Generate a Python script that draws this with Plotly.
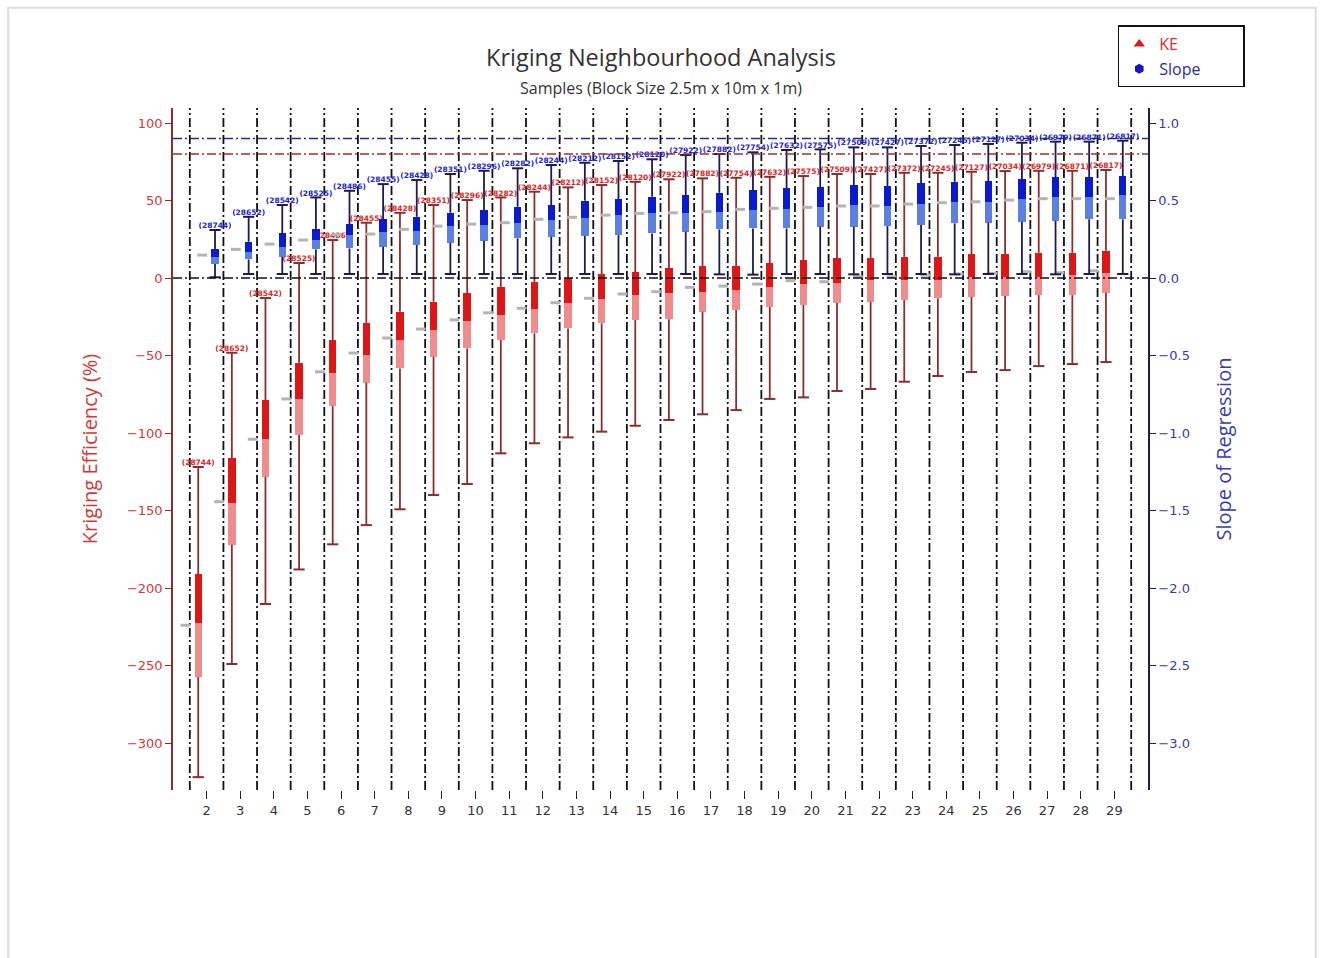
import plotly.graph_objects as go

# Number of samples in the search neighbourhood
samples = list(range(2, 30))

# Number of blocks estimated for each neighbourhood size
block_counts = [28744, 28652, 28542, 28525, 28486, 28455, 28428, 28351, 28296, 28282,
                28244, 28212, 28152, 28120, 27922, 27882, 27754, 27632, 27575, 27509,
                27427, 27372, 27245, 27127, 27034, 26979, 26871, 26817]

# Kriging efficiency (%) statistics
ke_max = [-121.9, -48.2, -12.9, 9.7, 24.5, 35.7, 42.1, 47.1, 50.3, 52.0, 55.7, 58.5, 60.0, 62.1,
          63.7, 64.3, 64.7, 65.3, 65.8, 67.1, 67.1, 67.9, 67.9, 68.6, 69.0, 69.2, 69.2, 69.7]
ke_q3 = [-191.0, -116.1, -78.7, -54.6, -40.0, -29.0, -21.7, -15.3, -9.7, -6.0, -2.5, -0.2, 2.6, 3.7,
         6.3, 7.7, 7.7, 9.5, 11.6, 12.7, 12.7, 13.7, 13.7, 15.5, 15.5, 16.3, 16.3, 17.6]
ke_median = [-222.6, -145.0, -103.9, -78.0, -61.1, -49.7, -40.0, -33.5, -27.5, -23.9, -20.2, -16.3,
             -13.5, -11.0, -9.5, -8.8, -7.7, -5.6, -3.8, -3.4, -1.3, -1.3, -1.3, 0.8, 0.8, 0.8, 1.9, 3.0]
ke_q1 = [-257.4, -172.0, -128.2, -101.3, -82.6, -67.5, -58.3, -50.8, -45.4, -40.0, -35.7, -32.5,
         -29.2, -27.1, -26.6, -21.7, -20.6, -18.7, -17.4, -16.1, -15.3, -14.2, -13.1, -12.1, -11.6,
         -11.0, -11.0, -9.5]
ke_min = [-322.0, -249.0, -210.3, -188.0, -171.8, -159.4, -149.2, -140.0, -132.9, -113.1, -106.6,
          -102.8, -99.1, -95.3, -91.6, -87.9, -85.2, -78.0, -77.0, -72.9, -71.6, -66.9, -63.2, -60.6,
          -59.4, -56.8, -55.5, -54.2]
ke_mean = [-224.0, -144.3, -104.0, -78.0, -60.5, -48.4, -38.7, -32.9, -27.0, -22.4, -19.5, -15.9,
           -13.1, -10.3, -8.8, -6.0, -5.2, -3.9, -1.7, -2.4, 0.8, 0.8, 1.9, 2.6, 3.0, 4.1, 3.4, 4.7]

# Slope of regression statistics
sl_max = [0.310, 0.395, 0.471, 0.520, 0.563, 0.606, 0.632, 0.671, 0.692, 0.708, 0.729, 0.744,
          0.755, 0.766, 0.794, 0.800, 0.811, 0.826, 0.830, 0.843, 0.843, 0.852, 0.858, 0.865,
          0.873, 0.880, 0.880, 0.886]
sl_q3 = [0.187, 0.234, 0.288, 0.314, 0.348, 0.379, 0.395, 0.421, 0.439, 0.460, 0.471, 0.499,
         0.510, 0.525, 0.535, 0.550, 0.568, 0.579, 0.585, 0.600, 0.594, 0.611, 0.621, 0.626,
         0.637, 0.650, 0.650, 0.658]
sl_median = [0.135, 0.170, 0.202, 0.245, 0.277, 0.299, 0.305, 0.335, 0.342, 0.353, 0.374, 0.385,
             0.406, 0.417, 0.421, 0.428, 0.439, 0.443, 0.456, 0.471, 0.465, 0.475, 0.492, 0.492,
             0.508, 0.521, 0.525, 0.535]
sl_q1 = [0.090, 0.120, 0.137, 0.185, 0.191, 0.202, 0.213, 0.228, 0.241, 0.256, 0.266, 0.271,
         0.277, 0.288, 0.299, 0.314, 0.320, 0.320, 0.331, 0.331, 0.335, 0.342, 0.353, 0.357,
         0.363, 0.370, 0.379, 0.379]
sl_min = [0.005, 0.026, 0.026, 0.026, 0.026, 0.026, 0.026, 0.026, 0.026, 0.026, 0.026, 0.026,
          0.026, 0.026, 0.026, 0.024, 0.022, 0.026, 0.026, 0.024, 0.026, 0.026, 0.024, 0.026,
          0.026, 0.024, 0.026, 0.026]
sl_mean = [0.148, 0.185, 0.219, 0.245, 0.280, 0.284, 0.314, 0.335, 0.348, 0.357, 0.379, 0.392,
           0.406, 0.417, 0.421, 0.428, 0.443, 0.450, 0.456, 0.465, 0.465, 0.477, 0.486, 0.492,
           0.503, 0.512, 0.512, 0.512]

# Reference targets
ke_target = 80
slope_target = 0.9

KE_DARK, KE_LIGHT, KE_WHISK, KE_TEXT = "#e01616", "#f08c8c", "#8a2e2e", "#e02424"
SL_DARK, SL_LIGHT, SL_WHISK, SL_TEXT = "#0a1ad0", "#5c80e0", "#1c1c50", "#2424d0"
GRAY = "#b4b4b4"

BOX_W = 0.22
SHIFT = 0.25
MEAN_SHIFT = 0.38
DASHDOT = "9px,3px,2px,3px"


def add_series(fig, offset, q_max, q3, med, q1, q_min, mean, dark, light, whisk, txt, yaxis):
    xs = [s + offset for s in samples]
    # whisker stems (outside the box only)
    wx, wy = [], []
    for x, hi, a, b, lo in zip(xs, q_max, q3, q1, q_min):
        wx += [x, x, None, x, x, None]
        wy += [hi, a, None, b, lo, None]
    fig.add_trace(go.Scatter(x=wx, y=wy, mode="lines", line=dict(color=whisk, width=1.8),
                             yaxis=yaxis, showlegend=False, hoverinfo="skip"))
    # whisker caps
    fig.add_trace(go.Scatter(x=xs + xs, y=list(q_max) + list(q_min), mode="markers",
                             marker=dict(symbol="line-ew", size=8, line=dict(color=whisk, width=2)),
                             yaxis=yaxis, showlegend=False, hoverinfo="skip"))
    # lower half of the box (Q1 -> median)
    fig.add_trace(go.Bar(x=xs, y=[m - a for m, a in zip(med, q1)], base=q1, width=BOX_W,
                         marker=dict(color=light, line=dict(width=0)), yaxis=yaxis,
                         showlegend=False, hoverinfo="skip"))
    # upper half of the box (median -> Q3)
    fig.add_trace(go.Bar(x=xs, y=[a - m for a, m in zip(q3, med)], base=med, width=BOX_W,
                         marker=dict(color=dark, line=dict(width=0)), yaxis=yaxis,
                         showlegend=False, hoverinfo="skip"))
    # mean markers
    fig.add_trace(go.Scatter(x=[x - MEAN_SHIFT for x in xs], y=mean, mode="markers",
                             marker=dict(symbol="line-ew", size=7, line=dict(color=GRAY, width=3)),
                             yaxis=yaxis, showlegend=False, hoverinfo="skip"))
    # block counts above the whiskers
    fig.add_trace(go.Scatter(x=xs, y=q_max, mode="text",
                             text=[f"<b>({n})</b>" for n in block_counts],
                             textposition="top center",
                             textfont=dict(family="DejaVu Sans", size=7.5, color=txt),
                             yaxis=yaxis, showlegend=False, hoverinfo="skip"))


fig = go.Figure()
add_series(fig, -SHIFT, ke_max, ke_q3, ke_median, ke_q1, ke_min, ke_mean,
           KE_DARK, KE_LIGHT, KE_WHISK, KE_TEXT, "y")
add_series(fig, SHIFT, sl_max, sl_q3, sl_median, sl_q1, sl_min, sl_mean,
           SL_DARK, SL_LIGHT, SL_WHISK, SL_TEXT, "y2")

# legend entries
PAD = "\u00a0" * 9
fig.add_trace(go.Scatter(x=[None], y=[None], mode="markers", legendgroup="ke",
                         name="<span style='color:#d83030'>KE</span>" + PAD,
                         marker=dict(symbol="triangle-up", size=10, color="#d41c1c")))
fig.add_trace(go.Scatter(x=[None], y=[None], mode="markers", legendgroup="slope",
                         name="<span style='color:#2a2aa8'>Slope</span>" + PAD,
                         marker=dict(symbol="hexagon", size=10, color="#1414c8"), yaxis="y2"))

shapes = []
# category separators
for s in samples + [samples[-1] + 1]:
    shapes.append(dict(type="line", xref="x", yref="paper", x0=s - 0.5, x1=s - 0.5, y0=0, y1=1,
                       line=dict(color="#111111", width=1.8, dash=DASHDOT), layer="below"))
# target and zero lines
shapes.append(dict(type="line", xref="paper", yref="y2", x0=0, x1=1, y0=slope_target, y1=slope_target,
                   line=dict(color="#2a2a8a", width=1.5, dash=DASHDOT), layer="above"))
shapes.append(dict(type="line", xref="paper", yref="y", x0=0, x1=1, y0=ke_target, y1=ke_target,
                   line=dict(color="#9a3030", width=1.5, dash=DASHDOT), layer="above"))
shapes.append(dict(type="line", xref="paper", yref="y", x0=0, x1=1, y0=0, y1=0,
                   line=dict(color="#111111", width=1.5, dash=DASHDOT), layer="above"))
# outer frame
shapes.append(dict(type="rect", xref="paper", yref="paper", x0=-0.169, x1=1.172, y0=-0.4, y1=1.147,
                   line=dict(color="#dcdcdc", width=2), layer="below"))

fig.update_layout(
    width=1322, height=958,
    margin=dict(l=173, r=174, t=108, b=168),
    paper_bgcolor="white", plot_bgcolor="white",
    barmode="overlay", bargap=0,
    shapes=shapes,
    showlegend=True,
    legend=dict(x=0.969, y=1.121, xanchor="left", yanchor="top",
                bordercolor="#111111", borderwidth=1.5, bgcolor="white",
                font=dict(family="Open Sans", size=16), itemwidth=30, tracegroupgap=1),
    xaxis=dict(range=[1, 30], tickvals=samples, ticks="outside", ticklen=8, tickcolor="#222222",
               showline=False, showgrid=False, zeroline=False,
               tickfont=dict(family="DejaVu Sans", size=13, color="#333333")),
    yaxis=dict(title=dict(text="Kriging Efficiency (%)", standoff=24,
                          font=dict(family="Open Sans", size=20, color="#d23a3a")),
               range=[-330.3, 109.7], tickvals=[100, 50, 0, -50, -100, -150, -200, -250, -300],
               ticks="outside", ticklen=6, tickcolor="#8a2e2e", showline=True,
               linecolor="#8a2e2e", linewidth=1.5, showgrid=False, zeroline=False,
               tickfont=dict(family="DejaVu Sans", size=13, color="#d23a3a")),
    yaxis2=dict(title=dict(text="Slope of Regression", standoff=28,
                           font=dict(family="Open Sans", size=20, color="#3a3ab0")),
                overlaying="y", side="right", range=[-3.303, 1.097],
                tickvals=[1.0, 0.5, 0.0, -0.5, -1.0, -1.5, -2.0, -2.5, -3.0], tickformat=".1f",
                ticks="outside", ticklen=6, tickcolor="#1c1c50", showline=True,
                linecolor="#1c1c50", linewidth=1.5, showgrid=False, zeroline=False,
                tickfont=dict(family="DejaVu Sans", size=13, color="#3a3ab0")),
    annotations=[
        dict(text="Kriging Neighbourhood Analysis", xref="paper", yref="paper", x=0.5, y=1.0748,
             showarrow=False, xanchor="center", yanchor="middle",
             font=dict(family="Open Sans", size=23.5, color="#333333")),
        dict(text="Samples (Block Size 2.5m x 10m x 1m)", xref="paper", yref="paper", x=0.5, y=1.0293,
             showarrow=False, xanchor="center", yanchor="middle",
             font=dict(family="Open Sans", size=16, color="#333333")),
    ],
)

fig.write_html("out.html")
